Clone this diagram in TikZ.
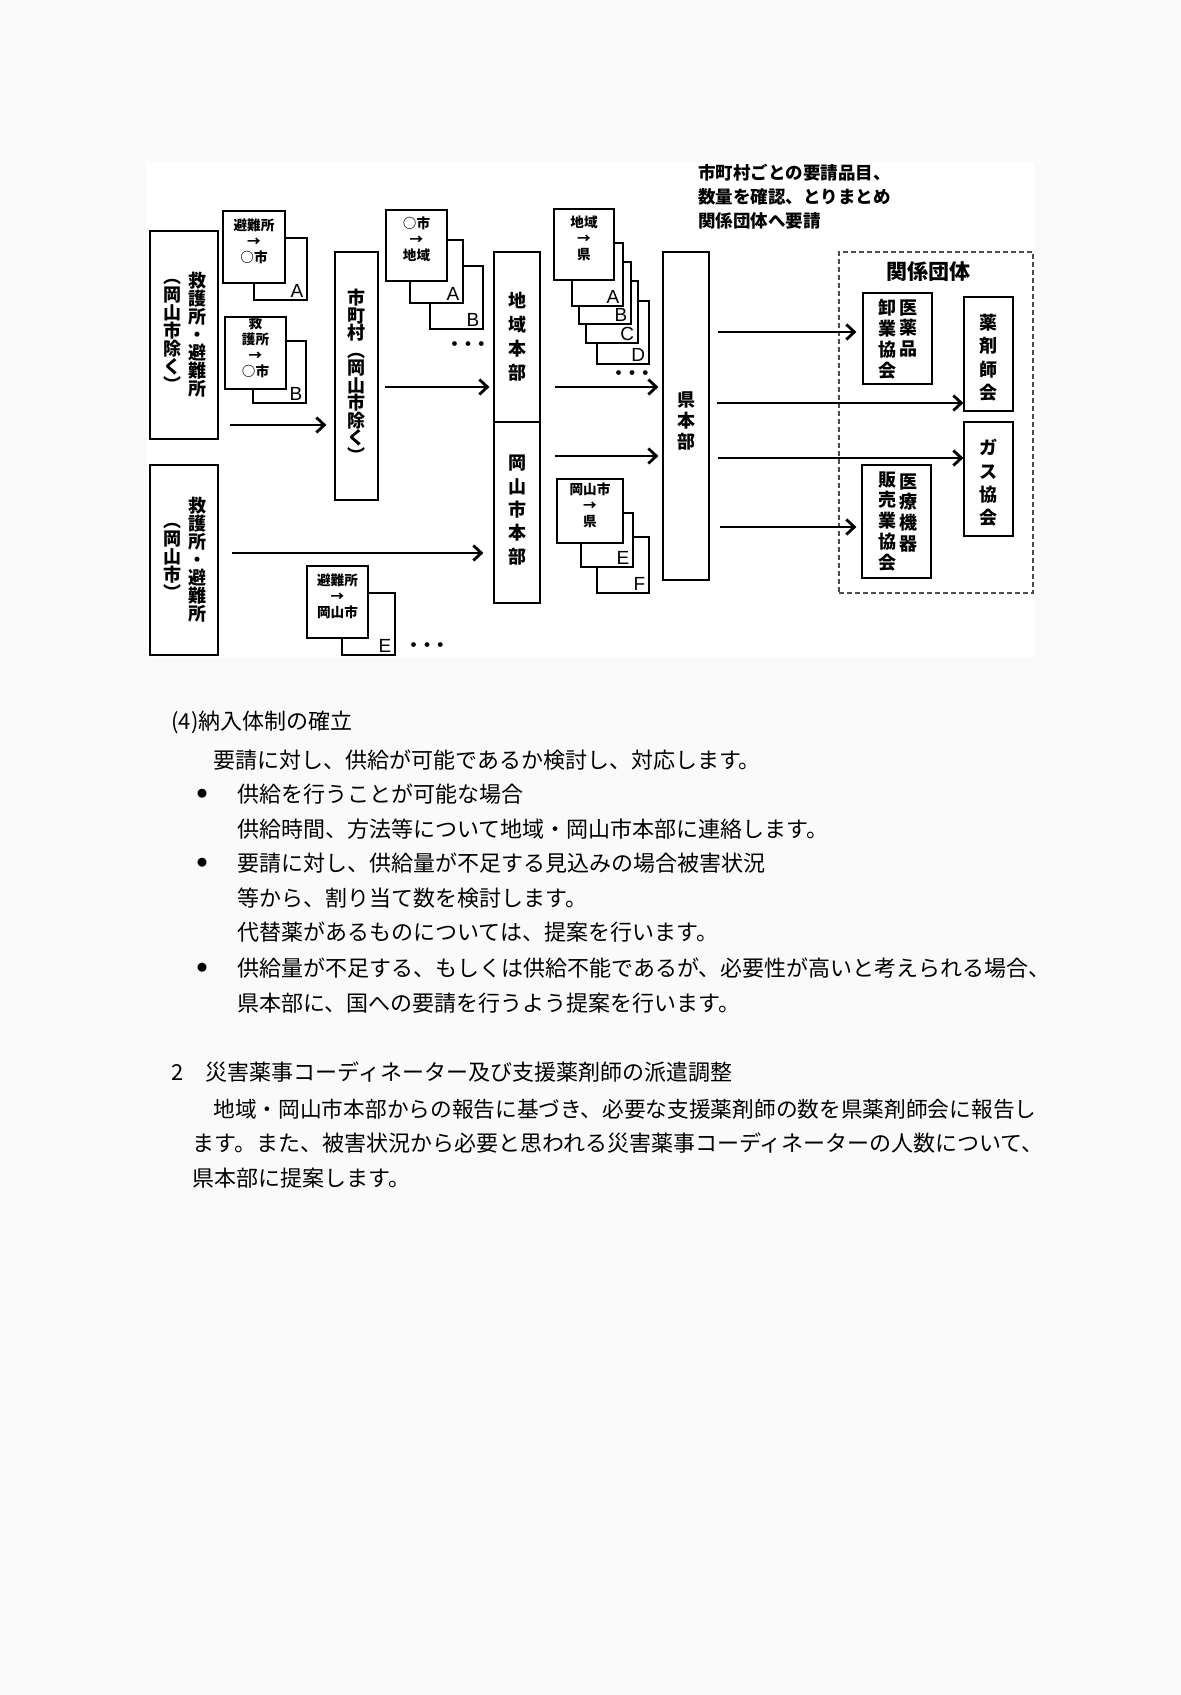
\documentclass[tikz,border=0pt]{standalone}
\usepackage{fontspec}
\setmainfont{Noto Sans CJK JP}
\newfontfamily\tagfont{Liberation Sans}
\usetikzlibrary{fit,arrows.meta}
\definecolor{pagebg}{gray}{0.98}
\definecolor{dashgray}{gray}{0.3}
\tikzset{
  box/.style={draw,line width=0.6pt,fill=white,inner sep=0pt},
  card/.style={align=center,font=\fontsize{6.8pt}{8pt}\selectfont\bfseries},
  tag/.style={anchor=south east,inner sep=0pt,font=\tagfont\fontsize{9.5pt}{9.5pt}\selectfont},
  tate/.style={align=center,inner sep=0pt,font=\fontsize{9pt}{#1}\selectfont\bfseries},
  tate/.default=9pt,
  dots/.style={inner sep=0pt,font=\fontsize{8.5pt}{8.5pt}\selectfont\bfseries},
  arr/.style={->,line width=1.4pt},
  body/.style={anchor=west,inner sep=0pt,font=\fontsize{11pt}{12pt}\selectfont},
}
\begin{document}
\begin{tikzpicture}[x=0.5pt,y=-0.5pt,>={Straight Barb[length=4pt,width=7.5pt]}]
  \useasboundingbox (0,0) rectangle (1181,1695);
  \fill[pagebg] (0,0) rectangle (1181,1695);
  \fill[white] (147,162) rectangle (1035,657);

  % 救護所・避難所
  \node[box,fit={(150,231) (218,439)}] (kyugoA) {};
  \node[tate] (kyugoAr) at (197,335) {救\\護\\所\\・\\避\\難\\所};
  \node[tate] (kyugoAl) at (172,335) {︵\\岡\\山\\市\\除\\く\\︶};
  \node[box,fit={(150,465) (218,655)}] (kyugoB) {};
  \node[tate] (kyugoBr) at (197,560) {救\\護\\所\\・\\避\\難\\所};
  \node[tate] (kyugoBl) at (172,561) {︵\\岡\\山\\市\\︶};

  % 避難所 -> ○市
  \node[box,fit={(254,238) (307,300)}] (hinanAb) {};
  \node[tag] (hinanAt) at ([shift={(-4,-3)}]hinanAb.south east) {A};
  \node[box,card,fit={(223,211) (285,283)}] (hinanA) {避難所\\→\\○市};
  \node[box,fit={(253,341) (306,403)}] (hinanBb) {};
  \node[tag] (hinanBt) at ([shift={(-4,-3)}]hinanBb.south east) {B};
  \node[box,card,fit={(225,317) (286,389)}] (hinanB) {救\\護所\\→\\○市};

  \node[box,fit={(335,252) (378,500)}] (shichoson) {};
  \node[tate=8.75pt] (shichosonl) at (356,376) {市\\町\\村\\︵\\岡\\山\\市\\除\\く\\︶};

  % ○市 -> 地域
  \node[box,fit={(430,266) (483,329)}] (shiBb) {};
  \node[tag] (shiBt) at ([shift={(-4,-3)}]shiBb.south east) {B};
  \node[box,fit={(410,240) (463,303)}] (shiAb) {};
  \node[tag] (shiAt) at ([shift={(-4,-3)}]shiAb.south east) {A};
  \node[box,card,fit={(386,210) (447,281)}] (shi) {○市\\→\\地域};
  \node[dots] (shidots) at (468,346) {・\kern-1.8pt・\kern-1.8pt・};

  \node[box,fit={(494,252) (540,422)}] (chiiki) {};
  \node[tate=12pt] (chiikil) at (517,337) {地\\域\\本\\部};
  \node[box,fit={(494,422) (540,603)}] (okayama) {};
  \node[tate=11.7pt] (okayamal) at (517,510) {岡\\山\\市\\本\\部};

  % 地域 -> 県
  \node[box,fit={(597,301) (649,364)}] (chDb) {};
  \node[tag] (chDt) at ([shift={(-4,-3)}]chDb.south east) {D};
  \node[box,fit={(586,281) (638,343)}] (chCb) {};
  \node[tag] (chCt) at ([shift={(-4,-3)}]chCb.south east) {C};
  \node[box,fit={(579,262) (631,324)}] (chBb) {};
  \node[tag] (chBt) at ([shift={(-4,-3)}]chBb.south east) {B};
  \node[box,fit={(572,243) (623,306)}] (chAb) {};
  \node[tag] (chAt) at ([shift={(-4,-3)}]chAb.south east) {A};
  \node[box,card,fit={(554,209) (614,280)}] (ch) {地域\\→\\県};
  \node[dots] (chdots) at (632,375) {・\kern-1.8pt・\kern-1.8pt・};

  % 岡山市 -> 県
  \node[box,fit={(597,537) (649,593)}] (okFb) {};
  \node[tag] (okFt) at ([shift={(-4,-3)}]okFb.south east) {F};
  \node[box,fit={(581,513) (633,567)}] (okEb) {};
  \node[tag] (okEt) at ([shift={(-4,-3)}]okEb.south east) {E};
  \node[box,card,fit={(557,479) (623,543)}] (ok) {岡山市\\→\\県};

  % 避難所 -> 岡山市
  \node[box,fit={(342,593) (395,655)}] (hinanEb) {};
  \node[tag] (hinanEt) at ([shift={(-4,-3)}]hinanEb.south east) {E};
  \node[box,card,fit={(307,566) (368,638)}] (hinanE) {避難所\\→\\岡山市};
  \node[dots] (hinandots) at (427,647) {・\kern-1.8pt・\kern-1.8pt・};

  \node[box,fit={(663,252) (709,580)}] (ken) {};
  \node[tate=10.5pt] (kenl) at (686,421) {県\\本\\部};

  \node[anchor=west,align=left,inner sep=0pt,font=\fontsize{8.75pt}{12pt}\selectfont\bfseries] (memo) at (698,197)
    {市町村ごとの要請品目、\\数量を確認、とりまとめ\\関係団体へ要請};

  % 関係団体
  \node[draw=dashgray,line width=0.6pt,dash pattern=on 2.5pt off 1.5pt,inner sep=0pt,fit={(839,252) (1033,593)}] (kankei) {};
  \node[font=\fontsize{10.5pt}{10.5pt}\selectfont\bfseries] (kankeil) at (928,272) {関係団体};
  \node[box,fit={(863,293) (932,384)}] (oroshi) {};
  \node[tate=10.4pt,anchor=north] (oroshir) at (908,299) {医\\薬\\品};
  \node[tate=10.4pt,anchor=north] (oroshil) at (887,299) {卸\\業\\協\\会};
  \node[box,fit={(964,297) (1013,411)}] (yakuzai) {};
  \node[tate=11.7pt] (yakuzail) at (988.5,357.5) {薬\\剤\\師\\会};
  \node[box,fit={(964,422) (1013,536)}] (gas) {};
  \node[tate=11.7pt] (gasl) at (988.5,483) {ガ\\ス\\協\\会};
  \node[box,fit={(862,465) (931,578)}] (kiki) {};
  \node[tate=10.4pt,anchor=north] (kikir) at (908,473) {医\\療\\機\\器};
  \node[tate=10.4pt,anchor=north] (kikil) at (887,471) {販\\売\\業\\協\\会};

  % arrows
  \draw[arr,shorten <=5.5pt,shorten >=4pt] (kyugoA.east |- 0,425) -- (shichoson.west |- 0,425);
  \draw[arr,shorten <=3pt,shorten >=2pt] (shichoson.east |- 0,387) -- (chiiki.west |- 0,387);
  \draw[arr,shorten <=6.5pt,shorten >=5pt] (kyugoB.east |- 0,553) -- (okayama.west |- 0,553);
  \draw[arr,shorten <=7pt,shorten >=2pt] (chiiki.east |- 0,387) -- (ken.west |- 0,387);
  \draw[arr,shorten <=7pt,shorten >=2pt] (okayama.east |- 0,456) -- (ken.west |- 0,456);
  \draw[arr,shorten <=4pt,shorten >=3pt] (ken.east |- 0,332) -- (oroshi.west |- 0,332);
  \draw[arr,shorten <=3.5pt] (ken.east |- 0,403) -- (yakuzai.west |- 0,403);
  \draw[arr,shorten <=4pt] (ken.east |- 0,458) -- (gas.west |- 0,458);
  \draw[arr,shorten <=5pt,shorten >=2.5pt] (ken.east |- 0,527) -- (kiki.west |- 0,527);

  % text
  \node[body] (t1) at (171,722) {(4)納入体制の確立};
  \node[body] (t2) at (213,760) {要請に対し、供給が可能であるか検討し、対応します。};
  \node[font=\fontsize{5pt}{5pt}\selectfont,inner sep=0pt] (b1) at (202,794) {●};
  \node[body] (t3) at (237,794) {供給を行うことが可能な場合};
  \node[body] (t4) at (237,829) {供給時間、方法等について地域・岡山市本部に連絡します。};
  \node[font=\fontsize{5pt}{5pt}\selectfont,inner sep=0pt] (b2) at (202,863) {●};
  \node[body] (t5) at (237,863) {要請に対し、供給量が不足する見込みの場合被害状況};
  \node[body] (t6) at (237,898) {等から、割り当て数を検討します。};
  \node[body] (t7) at (237,932) {代替薬があるものについては、提案を行います。};
  \node[font=\fontsize{5pt}{5pt}\selectfont,inner sep=0pt] (b3) at (202,968) {●};
  \node[body] (t8) at (237,968) {供給量が不足する、もしくは供給不能であるが、必要性が高いと考えられる場合、};
  \node[body] (t9) at (237,1003) {県本部に、国への要請を行うよう提案を行います。};
  \node[body] (t10) at (171,1072) {2　災害薬事コーディネーター及び支援薬剤師の派遣調整};
  \node[body,font=\fontsize{10.85pt}{12pt}\selectfont] (t11) at (213,1109) {地域・岡山市本部からの報告に基づき、必要な支援薬剤師の数を県薬剤師会に報告し};
  \node[body] (t12) at (192,1143) {ます。また、被害状況から必要と思われる災害薬事コーディネーターの人数について、};
  \node[body] (t13) at (192,1178) {県本部に提案します。};
\end{tikzpicture}
\end{document}
